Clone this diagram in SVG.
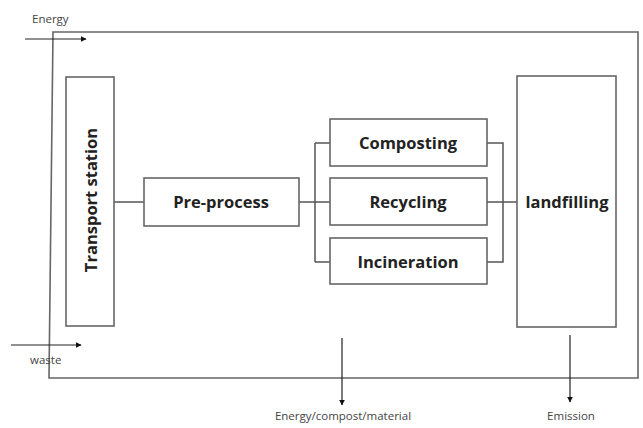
<svg xmlns="http://www.w3.org/2000/svg" width="643" height="428" viewBox="0 0 643 428">
<defs>
<marker id="ah" viewBox="0 0 10 10" refX="9" refY="5" markerWidth="6" markerHeight="6" markerUnits="userSpaceOnUse" orient="auto">
<path d="M0,0 L10,5 L0,10 Z" fill="#111"/>
</marker>
</defs>
<style>
.box{fill:#fff;stroke:#666;stroke-width:1.6}
.frame{fill:none;stroke:#666;stroke-width:1.6}
.ln{fill:none;stroke:#555;stroke-width:1.5}
.arr{fill:none;stroke:#222;stroke-width:1.2;marker-end:url(#ah)}
.lbl{font-family:"Open Sans","Liberation Sans",sans-serif;font-weight:bold;font-size:16.5px;fill:#222;text-anchor:middle;dominant-baseline:central}
.sm{font-family:"Open Sans","Liberation Sans",sans-serif;font-size:11.5px;fill:#444}
</style>
<rect width="643" height="428" fill="#fff"/>
<path class="frame" d="M53,32 H638 V378 H49 Z"/>
<g id="connectors">
<path class="ln" d="M114,202 H144"/>
<path class="ln" d="M299,202 H330"/>
<path class="ln" d="M315,143 V262"/>
<path class="ln" d="M315,143 H330 M315,262 H330"/>
<path class="ln" d="M487,143 H503 V262 H487"/>
<path class="ln" d="M487,202 H517"/>
<path class="arr" d="M25,39 H86"/>
<path class="arr" d="M11,345 H81"/>
<path class="arr" d="M342,338 V405"/>
<path class="arr" d="M570,335 V402"/>
</g>
<g id="transport">
<rect class="box" x="66" y="77" width="48" height="249"/>
<text class="lbl" transform="translate(90,200) rotate(-90)">Transport station</text>
</g>
<g id="preprocess">
<rect class="box" x="144" y="178" width="155" height="48"/>
<text class="lbl" x="221" y="201">Pre-process</text>
</g>
<g id="composting">
<rect class="box" x="330" y="119" width="157" height="47"/>
<text class="lbl" x="408" y="142">Composting</text>
</g>
<g id="recycling">
<rect class="box" x="330" y="178" width="157" height="47"/>
<text class="lbl" x="408" y="201">Recycling</text>
</g>
<g id="incineration">
<rect class="box" x="330" y="238" width="157" height="46"/>
<text class="lbl" x="408" y="261">Incineration</text>
</g>
<g id="landfilling">
<rect class="box" x="517" y="76" width="99" height="251"/>
<text class="lbl" x="567" y="201">landfilling</text>
</g>
<g id="labels">
<text class="sm" x="32" y="23">Energy</text>
<text class="sm" x="30" y="364">waste</text>
<text class="sm" x="343" y="420" text-anchor="middle">Energy/compost/material</text>
<text class="sm" x="571" y="420" text-anchor="middle">Emission</text>
</g>
</svg>
